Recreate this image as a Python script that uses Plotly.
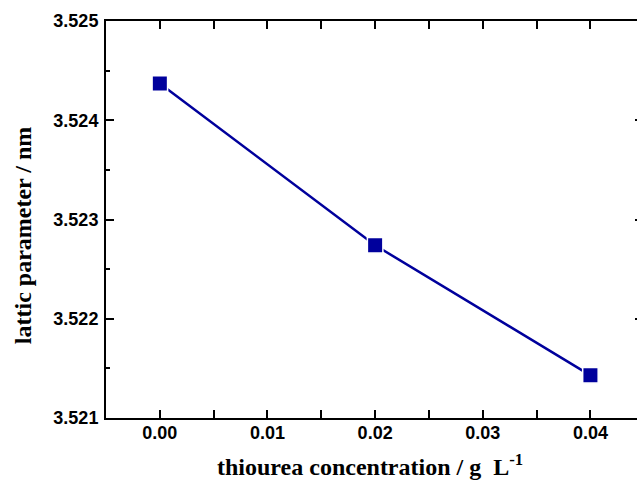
import plotly.graph_objects as go

# Data
concentration = [0.00, 0.02, 0.04]
lattice_param = [3.52437, 3.52274, 3.52143]

x_ticks = [0.00, 0.01, 0.02, 0.03, 0.04]
x_ticklabels = ["0.00", "0.01", "0.02", "0.03", "0.04"]
y_ticks = [3.521, 3.522, 3.523, 3.524, 3.525]
y_ticklabels = ["3.521", "3.522", "3.523", "3.524", "3.525"]

x_title = "thiourea concentration / g\u00a0\u00a0L<sup>-1</sup>"
y_title = "lattic parameter / nm"

W, H = 637, 482
ML, MR, MT, MB = 106, 0, 21, 64
PX_PER_UNIT = 10765.0

x_range = [-0.005, -0.005 + (W - ML - MR) / PX_PER_UNIT]
y_range = [3.521, 3.525]

color = "#00009C"
tick_font = dict(family="Liberation Sans, Arial, sans-serif", size=18, color="black", weight="bold")
title_font = dict(family="Liberation Serif, Times New Roman, serif", size=24, color="black", weight="bold")

fig = go.Figure()
fig.add_trace(go.Scatter(
    x=concentration, y=lattice_param, mode="lines+markers",
    line=dict(color=color, width=2.5),
    marker=dict(symbol="square", size=15.5, color=color, line=dict(color="white", width=1.5)),
    showlegend=False, hoverinfo="skip",
))
# invisible trace so the right-hand tick axis is drawn
fig.add_trace(go.Scatter(x=[concentration[0]], y=[lattice_param[0]], yaxis="y2",
                         mode="markers", marker=dict(opacity=0), showlegend=False,
                         hoverinfo="skip"))

fig.update_layout(
    width=W, height=H,
    margin=dict(l=ML, r=MR, t=MT, b=MB),
    paper_bgcolor="white", plot_bgcolor="white",
    font=tick_font,
    xaxis=dict(
        range=x_range, tickvals=x_ticks, ticktext=x_ticklabels,
        showline=True, linecolor="black", linewidth=2, mirror="allticks",
        ticks="inside", ticklen=8, tickwidth=1.5, tickcolor="black",
        minor=dict(ticks="inside", ticklen=4, tickwidth=1.5, dtick=0.005, tick0=0, tickcolor="black"),
        showgrid=False, zeroline=False, automargin=False,
        tickfont=tick_font,
        ticklabelstandoff=-3,
    ),
    yaxis=dict(
        range=y_range, tickvals=y_ticks, ticktext=y_ticklabels,
        showline=True, linecolor="black", linewidth=2, mirror=False,
        ticks="inside", ticklen=8, tickwidth=1.5, tickcolor="black",
        minor=dict(ticks="inside", ticklen=4, tickwidth=1.5, dtick=0.0005, tick0=3.521, tickcolor="black"),
        showgrid=False, zeroline=False, automargin=False,
        tickfont=tick_font,
        ticklabelstandoff=2,
    ),
    yaxis2=dict(
        range=y_range, overlaying="y", side="right", anchor="x",
        tickvals=y_ticks, showticklabels=False, showline=False,
        ticks="inside", ticklen=2, tickwidth=1.5, tickcolor="black",
        showgrid=False, zeroline=False, automargin=False,
    ),
    annotations=[
        dict(text=x_title, xref="paper", yref="paper", x=0.498, y=-0.118,
             xanchor="center", yanchor="middle", showarrow=False, font=title_font),
        dict(text=y_title, xref="paper", yref="paper", x=-0.156, y=0.461,
             xanchor="center", yanchor="middle", showarrow=False, textangle=-90,
             font=title_font),
    ],
)

fig.write_html(
    "out.html",
    config={"displayModeBar": False},
    post_script="document.documentElement.style.overflow='hidden';"
                "document.body.style.margin='0';document.body.style.overflow='hidden';",
)
